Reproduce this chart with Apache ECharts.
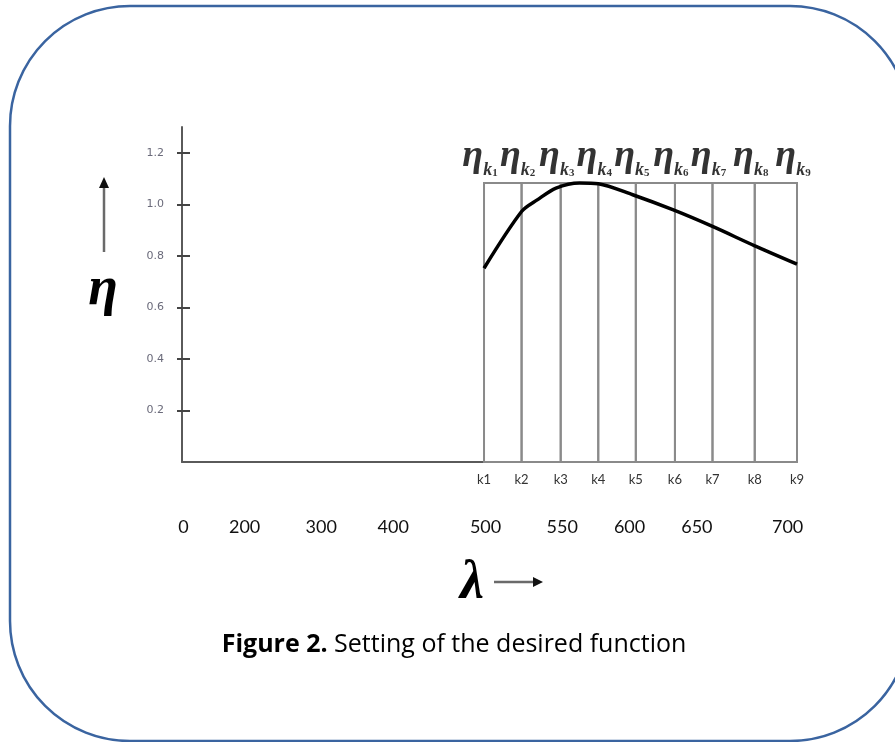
<!DOCTYPE html>
<html>
<head>
<meta charset="utf-8">
<script src="https://cdn.jsdelivr.net/npm/echarts@6/dist/echarts.min.js"></script>
<style>html,body{margin:0;padding:0;background:#fff;}#c{width:895px;height:742px;}</style>
</head>
<body>
<div id="c"></div>
<script>
// ---- data ----
const kLabels = ['k1','k2','k3','k4','k5','k6','k7','k8','k9'];
const kLambda = [500, 524, 549, 573, 597, 622, 646, 673, 700];
const curveLambda = [500, 524, 534, 546, 561, 573, 595, 621, 646, 673, 700];
const curveEta    = [0.752, 0.972, 1.017, 1.063, 1.083, 1.080, 1.037, 0.978, 0.914, 0.839, 0.768];
const etaTop = 1.083;
const yTicks = [0.2, 0.4, 0.6, 0.8, 1.0, 1.2];
const bottomLabels  = ['0','200','300','400','500','550','600','650','700'];
const bottomLabelAt = [308, 347, 396, 442, 501, 550, 593, 636, 694];
const caption = 'Figure 2.';
const captionRest = ' Setting of the desired function';

const chart = echarts.init(document.getElementById('c'), null, {renderer: 'canvas'});

const cells = [];
for (let i = 0; i < kLambda.length - 1; i++) cells.push([kLambda[i], kLambda[i+1], etaTop]);

const option = {
  backgroundColor: '#fff',
  animation: false,
  grid: {left: 182, right: 98, top: 127, bottom: 280},
  xAxis: [
    {
      type: 'value', min: 307, max: 700,
      axisLine: {show: true, lineStyle: {color: '#5a5a5a', width: 2}},
      splitLine: {show: false},
      axisTick: {show: false},
      axisLabel: {
        customValues: kLambda,
        formatter: v => kLabels[kLambda.indexOf(v)] || '',
        margin: 11, color: '#333', fontSize: 13, fontFamily: 'Lato'
      }
    },
    {
      type: 'value', min: 307, max: 700, position: 'bottom',
      axisLine: {show: false}, splitLine: {show: false}, axisTick: {show: false},
      axisLabel: {
        customValues: bottomLabelAt,
        formatter: v => bottomLabels[bottomLabelAt.indexOf(v)] || '',
        margin: 56, color: '#111', fontSize: 18, fontFamily: 'Lato'
      }
    }
  ],
  yAxis: [
    {
      type: 'value', min: 0, max: 1.3,
      axisLine: {show: true, lineStyle: {color: '#5a5a5a', width: 2}},
      splitLine: {show: false},
      axisTick: {show: true, customValues: yTicks, length: 5, lineStyle: {color: '#444', width: 2}},
      axisLabel: {
        customValues: yTicks,
        formatter: v => v.toFixed(1),
        margin: 18, color: '#6a6a7a', fontSize: 11, fontFamily: 'DejaVu Sans'
      }
    },
    {
      type: 'value', min: 0, max: 1.3, position: 'left',
      axisLine: {show: false}, splitLine: {show: false},
      axisTick: {show: true, inside: true, customValues: yTicks, length: 8, lineStyle: {color: '#444', width: 2}},
      axisLabel: {show: false}
    }
  ],
  series: [
    {
      type: 'custom',
      data: cells,
      z: 1,
      renderItem: function (params, api) {
        const p0 = api.coord([api.value(0), api.value(2)]);
        const p1 = api.coord([api.value(1), 0]);
        return {
          type: 'rect',
          shape: {x: p0[0], y: p0[1], width: p1[0] - p0[0], height: p1[1] - p0[1]},
          style: {fill: null, stroke: '#8a8a8a', lineWidth: 2}
        };
      }
    },
    {
      type: 'line',
      data: curveLambda.map((x, i) => [x, curveEta[i]]),
      smooth: 0.3,
      showSymbol: false,
      z: 5,
      lineStyle: {color: '#000', width: 3.5}
    },
    {
      type: 'scatter',
      data: kLambda.map(x => [x, etaTop]),
      symbolSize: 0,
      z: 6,
      label: {
        show: true, position: 'top', distance: 4, offset: [-4, 0],
        formatter: p => '{e|η}{k|k}{n|' + (p.dataIndex + 1) + '}',
        rich: {
          e: {fontFamily: 'Liberation Serif', fontStyle: 'italic', fontWeight: 'bold', fontSize: 38, color: '#000', verticalAlign: 'bottom', padding: [0, 0, 4, 0]},
          k: {fontFamily: 'Liberation Serif', fontStyle: 'italic', fontWeight: 'bold', fontSize: 18, color: '#000', verticalAlign: 'bottom'},
          n: {fontFamily: 'Liberation Serif', fontWeight: 'bold', fontSize: 11, color: '#000', verticalAlign: 'bottom'}
        }
      }
    }
  ],
  graphic: [
    {type: 'rect', shape: {x: 10, y: 6, width: 900, height: 735, r: 120}, style: {fill: null, stroke: '#3a64a0', lineWidth: 2.5}, z: 0},
    // eta label + up arrow
    {type: 'text', x: 103, y: 290, style: {text: 'η', font: 'italic bold 54px "Liberation Serif"', fill: '#000', textAlign: 'center', textVerticalAlign: 'middle'}},
    {type: 'line', shape: {x1: 104, y1: 252, x2: 104, y2: 186}, style: {stroke: '#6a6a6a', lineWidth: 2.5}},
    {type: 'polygon', shape: {points: [[104, 177], [99, 188], [109, 188]]}, style: {fill: '#111'}},
    // lambda label + right arrow
    {type: 'text', x: 472, y: 584, style: {text: 'λ', font: 'italic bold 54px "Liberation Serif"', fill: '#000', textAlign: 'center', textVerticalAlign: 'middle'}},
    {type: 'line', shape: {x1: 494, y1: 582, x2: 535, y2: 582}, style: {stroke: '#6a6a6a', lineWidth: 2.5}},
    {type: 'polygon', shape: {points: [[543, 582], [533, 577], [533, 587]]}, style: {fill: '#111'}},
    // caption
    {type: 'text', x: 454, y: 645, style: {
      text: '{b|' + caption + '}{r|' + captionRest + '}',
      textAlign: 'center', textVerticalAlign: 'middle',
      rich: {
        b: {fontFamily: 'Open Sans', fontWeight: 'bold', fontSize: 25, fill: '#000'},
        r: {fontFamily: 'Open Sans', fontSize: 25, fill: '#000'}
      }
    }}
  ]
};
chart.setOption(option);
</script>
</body>
</html>
